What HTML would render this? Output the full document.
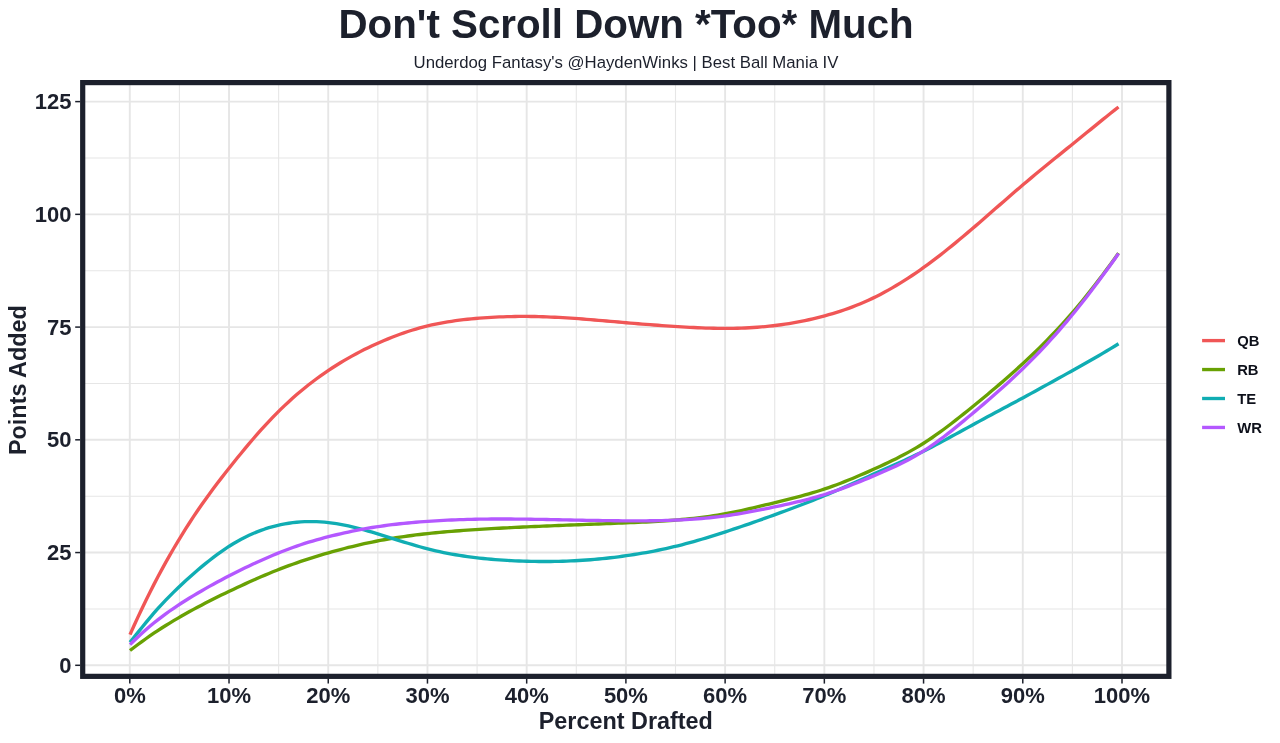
<!DOCTYPE html>
<html><head><meta charset="utf-8"><title>Don't Scroll Down *Too* Much</title>
<style>
html,body{margin:0;padding:0;background:#fff;}
body{width:1280px;height:743px;overflow:hidden;}
svg{display:block;will-change:transform;}
text{font-family:"Liberation Sans",sans-serif;fill:#1c202c;}
.tk{font-size:22px;font-weight:bold;}
.ax{font-size:23.4px;font-weight:bold;}
.lg{font-size:14.8px;font-weight:bold;fill:#0d101a;}
.ti{font-size:40.3px;font-weight:bold;}
.st{font-size:16.75px;}
</style></head><body>
<svg width="1280" height="743" viewBox="0 0 1280 743">
<rect x="0" y="0" width="1280" height="743" fill="#ffffff"/>
<text x="626.1" y="38" text-anchor="middle" class="ti">Don't Scroll Down *Too* Much</text>
<text x="626" y="67.5" text-anchor="middle" class="st">Underdog Fantasy's @HaydenWinks | Best Ball Mania IV</text>
<g>
<line x1="179.41" x2="179.41" y1="82.6" y2="676.35" stroke="#e6e6e6" stroke-width="1.1"/>
<line x1="278.63" x2="278.63" y1="82.6" y2="676.35" stroke="#e6e6e6" stroke-width="1.1"/>
<line x1="377.85" x2="377.85" y1="82.6" y2="676.35" stroke="#e6e6e6" stroke-width="1.1"/>
<line x1="477.07" x2="477.07" y1="82.6" y2="676.35" stroke="#e6e6e6" stroke-width="1.1"/>
<line x1="576.29" x2="576.29" y1="82.6" y2="676.35" stroke="#e6e6e6" stroke-width="1.1"/>
<line x1="675.51" x2="675.51" y1="82.6" y2="676.35" stroke="#e6e6e6" stroke-width="1.1"/>
<line x1="774.73" x2="774.73" y1="82.6" y2="676.35" stroke="#e6e6e6" stroke-width="1.1"/>
<line x1="873.95" x2="873.95" y1="82.6" y2="676.35" stroke="#e6e6e6" stroke-width="1.1"/>
<line x1="973.17" x2="973.17" y1="82.6" y2="676.35" stroke="#e6e6e6" stroke-width="1.1"/>
<line x1="1072.39" x2="1072.39" y1="82.6" y2="676.35" stroke="#e6e6e6" stroke-width="1.1"/>
<line x1="82.7" x2="1168.9" y1="608.93" y2="608.93" stroke="#e6e6e6" stroke-width="1.1"/>
<line x1="82.7" x2="1168.9" y1="496.19" y2="496.19" stroke="#e6e6e6" stroke-width="1.1"/>
<line x1="82.7" x2="1168.9" y1="383.46" y2="383.46" stroke="#e6e6e6" stroke-width="1.1"/>
<line x1="82.7" x2="1168.9" y1="270.72" y2="270.72" stroke="#e6e6e6" stroke-width="1.1"/>
<line x1="82.7" x2="1168.9" y1="157.98" y2="157.98" stroke="#e6e6e6" stroke-width="1.1"/>
<line x1="129.80" x2="129.80" y1="82.6" y2="676.35" stroke="#e6e6e6" stroke-width="1.9"/>
<line x1="229.02" x2="229.02" y1="82.6" y2="676.35" stroke="#e6e6e6" stroke-width="1.9"/>
<line x1="328.24" x2="328.24" y1="82.6" y2="676.35" stroke="#e6e6e6" stroke-width="1.9"/>
<line x1="427.46" x2="427.46" y1="82.6" y2="676.35" stroke="#e6e6e6" stroke-width="1.9"/>
<line x1="526.68" x2="526.68" y1="82.6" y2="676.35" stroke="#e6e6e6" stroke-width="1.9"/>
<line x1="625.90" x2="625.90" y1="82.6" y2="676.35" stroke="#e6e6e6" stroke-width="1.9"/>
<line x1="725.12" x2="725.12" y1="82.6" y2="676.35" stroke="#e6e6e6" stroke-width="1.9"/>
<line x1="824.34" x2="824.34" y1="82.6" y2="676.35" stroke="#e6e6e6" stroke-width="1.9"/>
<line x1="923.56" x2="923.56" y1="82.6" y2="676.35" stroke="#e6e6e6" stroke-width="1.9"/>
<line x1="1022.78" x2="1022.78" y1="82.6" y2="676.35" stroke="#e6e6e6" stroke-width="1.9"/>
<line x1="1122.00" x2="1122.00" y1="82.6" y2="676.35" stroke="#e6e6e6" stroke-width="1.9"/>
<line x1="82.7" x2="1168.9" y1="665.30" y2="665.30" stroke="#e6e6e6" stroke-width="1.9"/>
<line x1="82.7" x2="1168.9" y1="552.56" y2="552.56" stroke="#e6e6e6" stroke-width="1.9"/>
<line x1="82.7" x2="1168.9" y1="439.82" y2="439.82" stroke="#e6e6e6" stroke-width="1.9"/>
<line x1="82.7" x2="1168.9" y1="327.09" y2="327.09" stroke="#e6e6e6" stroke-width="1.9"/>
<line x1="82.7" x2="1168.9" y1="214.35" y2="214.35" stroke="#e6e6e6" stroke-width="1.9"/>
<line x1="82.7" x2="1168.9" y1="101.61" y2="101.61" stroke="#e6e6e6" stroke-width="1.9"/>
</g>
<g>
<polyline points="130.00,634.59 133.97,625.78 137.94,617.15 141.91,608.70 145.88,600.47 149.85,592.44 153.82,584.62 157.79,577.01 161.76,569.60 165.73,562.38 169.70,555.35 173.67,548.50 177.64,541.82 181.61,535.30 185.58,528.95 189.55,522.75 193.52,516.70 197.49,510.80 201.46,505.04 205.43,499.42 209.40,493.93 213.37,488.56 217.34,483.29 221.31,478.11 225.28,473.01 229.25,467.97 233.22,462.98 237.19,458.05 241.16,453.19 245.13,448.39 249.10,443.66 253.07,439.02 257.04,434.46 261.01,429.98 264.98,425.61 268.95,421.33 272.92,417.16 276.89,413.11 280.86,409.17 284.83,405.35 288.80,401.65 292.77,398.06 296.74,394.58 300.71,391.21 304.68,387.94 308.65,384.77 312.62,381.71 316.59,378.73 320.56,375.85 324.53,373.07 328.50,370.36 332.47,367.75 336.44,365.22 340.41,362.76 344.38,360.39 348.35,358.09 352.32,355.87 356.29,353.71 360.26,351.63 364.23,349.61 368.20,347.66 372.17,345.78 376.14,343.95 380.11,342.19 384.08,340.48 388.05,338.83 392.02,337.24 395.99,335.72 399.96,334.26 403.93,332.86 407.90,331.53 411.87,330.26 415.84,329.06 419.81,327.93 423.78,326.86 427.75,325.87 431.72,324.95 435.69,324.09 439.66,323.30 443.63,322.57 447.60,321.90 451.57,321.28 455.54,320.71 459.51,320.19 463.48,319.71 467.45,319.28 471.42,318.88 475.39,318.51 479.36,318.18 483.33,317.88 487.30,317.60 491.27,317.36 495.24,317.14 499.21,316.95 503.18,316.80 507.15,316.67 511.12,316.56 515.09,316.49 519.06,316.45 523.03,316.43 527.00,316.44 530.97,316.48 534.94,316.54 538.91,316.63 542.88,316.75 546.85,316.89 550.82,317.05 554.79,317.23 558.76,317.43 562.73,317.65 566.70,317.89 570.67,318.14 574.64,318.42 578.61,318.70 582.58,319.00 586.55,319.31 590.52,319.63 594.49,319.96 598.46,320.30 602.43,320.64 606.40,320.99 610.37,321.33 614.34,321.68 618.31,322.03 622.28,322.38 626.25,322.73 630.22,323.06 634.19,323.40 638.16,323.73 642.13,324.05 646.10,324.36 650.07,324.67 654.04,324.98 658.01,325.27 661.98,325.56 665.95,325.84 669.92,326.12 673.89,326.38 677.86,326.64 681.83,326.88 685.80,327.12 689.77,327.34 693.74,327.54 697.71,327.73 701.68,327.90 705.65,328.05 709.62,328.17 713.59,328.27 717.56,328.35 721.53,328.39 725.50,328.40 729.47,328.38 733.44,328.33 737.41,328.24 741.38,328.12 745.35,327.96 749.32,327.76 753.29,327.53 757.26,327.25 761.23,326.94 765.20,326.58 769.17,326.18 773.14,325.75 777.11,325.26 781.08,324.73 785.05,324.16 789.02,323.54 792.99,322.88 796.96,322.17 800.93,321.41 804.90,320.60 808.87,319.75 812.84,318.84 816.81,317.89 820.78,316.88 824.75,315.83 828.72,314.72 832.69,313.56 836.66,312.34 840.63,311.06 844.60,309.72 848.57,308.31 852.54,306.84 856.51,305.30 860.48,303.68 864.45,301.99 868.42,300.22 872.39,298.37 876.36,296.44 880.33,294.42 884.30,292.32 888.27,290.15 892.24,287.89 896.21,285.56 900.18,283.15 904.15,280.67 908.12,278.12 912.09,275.50 916.06,272.80 920.03,270.04 924.00,267.22 927.97,264.33 931.94,261.38 935.91,258.38 939.88,255.32 943.85,252.21 947.82,249.05 951.79,245.85 955.76,242.60 959.73,239.32 963.70,236.00 967.67,232.65 971.64,229.27 975.61,225.86 979.58,222.44 983.55,219.00 987.52,215.54 991.49,212.07 995.46,208.60 999.43,205.13 1003.40,201.67 1007.37,198.21 1011.34,194.76 1015.31,191.33 1019.28,187.92 1023.25,184.54 1027.22,181.18 1031.19,177.85 1035.16,174.55 1039.13,171.27 1043.10,168.01 1047.07,164.76 1051.04,161.53 1055.01,158.31 1058.98,155.09 1062.95,151.88 1066.92,148.67 1070.89,145.46 1074.86,142.25 1078.83,139.02 1082.80,135.80 1086.77,132.57 1090.74,129.33 1094.71,126.10 1098.68,122.87 1102.65,119.64 1106.62,116.43 1110.59,113.26 1114.56,110.13 1118.53,107.05" fill="none" stroke="#F05656" stroke-width="3.35" stroke-linejoin="round" stroke-linecap="butt"/>
<polyline points="130.00,650.54 133.97,647.51 137.94,644.53 141.91,641.61 145.88,638.75 149.85,635.96 153.82,633.24 157.79,630.59 161.76,628.02 165.73,625.51 169.70,623.06 173.67,620.67 177.64,618.32 181.61,616.03 185.58,613.78 189.55,611.57 193.52,609.40 197.49,607.27 201.46,605.17 205.43,603.10 209.40,601.06 213.37,599.06 217.34,597.08 221.31,595.12 225.28,593.19 229.25,591.29 233.22,589.40 237.19,587.54 241.16,585.69 245.13,583.87 249.10,582.07 253.07,580.30 257.04,578.55 261.01,576.82 264.98,575.12 268.95,573.45 272.92,571.82 276.89,570.22 280.86,568.66 284.83,567.14 288.80,565.65 292.77,564.21 296.74,562.81 300.71,561.44 304.68,560.11 308.65,558.81 312.62,557.55 316.59,556.32 320.56,555.13 324.53,553.96 328.50,552.81 332.47,551.70 336.44,550.60 340.41,549.54 344.38,548.50 348.35,547.49 352.32,546.51 356.29,545.55 360.26,544.63 364.23,543.74 368.20,542.87 372.17,542.04 376.14,541.25 380.11,540.48 384.08,539.75 388.05,539.05 392.02,538.38 395.99,537.74 399.96,537.13 403.93,536.55 407.90,536.00 411.87,535.47 415.84,534.96 419.81,534.48 423.78,534.02 427.75,533.59 431.72,533.17 435.69,532.77 439.66,532.39 443.63,532.03 447.60,531.68 451.57,531.35 455.54,531.04 459.51,530.73 463.48,530.44 467.45,530.16 471.42,529.89 475.39,529.63 479.36,529.38 483.33,529.14 487.30,528.90 491.27,528.67 495.24,528.44 499.21,528.22 503.18,528.01 507.15,527.80 511.12,527.60 515.09,527.40 519.06,527.21 523.03,527.03 527.00,526.84 530.97,526.67 534.94,526.49 538.91,526.32 542.88,526.15 546.85,525.99 550.82,525.83 554.79,525.67 558.76,525.51 562.73,525.35 566.70,525.20 570.67,525.04 574.64,524.89 578.61,524.74 582.58,524.58 586.55,524.43 590.52,524.28 594.49,524.12 598.46,523.97 602.43,523.81 606.40,523.66 610.37,523.50 614.34,523.34 618.31,523.18 622.28,523.02 626.25,522.85 630.22,522.69 634.19,522.52 638.16,522.34 642.13,522.16 646.10,521.96 650.07,521.76 654.04,521.54 658.01,521.31 661.98,521.07 665.95,520.80 669.92,520.52 673.89,520.22 677.86,519.89 681.83,519.54 685.80,519.17 689.77,518.77 693.74,518.34 697.71,517.88 701.68,517.39 705.65,516.87 709.62,516.31 713.59,515.72 717.56,515.09 721.53,514.42 725.50,513.72 729.47,512.97 733.44,512.19 737.41,511.37 741.38,510.52 745.35,509.65 749.32,508.75 753.29,507.83 757.26,506.89 761.23,505.94 765.20,504.98 769.17,504.01 773.14,503.04 777.11,502.07 781.08,501.09 785.05,500.11 789.02,499.12 792.99,498.11 796.96,497.09 800.93,496.03 804.90,494.95 808.87,493.83 812.84,492.68 816.81,491.48 820.78,490.23 824.75,488.93 828.72,487.58 832.69,486.17 836.66,484.71 840.63,483.20 844.60,481.65 848.57,480.06 852.54,478.43 856.51,476.77 860.48,475.08 864.45,473.35 868.42,471.60 872.39,469.83 876.36,468.04 880.33,466.23 884.30,464.39 888.27,462.51 892.24,460.59 896.21,458.63 900.18,456.61 904.15,454.53 908.12,452.38 912.09,450.16 916.06,447.86 920.03,445.47 924.00,442.99 927.97,440.41 931.94,437.74 935.91,434.98 939.88,432.15 943.85,429.25 947.82,426.28 951.79,423.25 955.76,420.17 959.73,417.05 963.70,413.88 967.67,410.69 971.64,407.47 975.61,404.24 979.58,400.98 983.55,397.71 987.52,394.42 991.49,391.09 995.46,387.74 999.43,384.36 1003.40,380.94 1007.37,377.48 1011.34,373.98 1015.31,370.44 1019.28,366.85 1023.25,363.21 1027.22,359.52 1031.19,355.77 1035.16,351.96 1039.13,348.09 1043.10,344.15 1047.07,340.13 1051.04,336.04 1055.01,331.88 1058.98,327.63 1062.95,323.30 1066.92,318.87 1070.89,314.36 1074.86,309.75 1078.83,305.04 1082.80,300.23 1086.77,295.34 1090.74,290.36 1094.71,285.28 1098.68,280.13 1102.65,274.89 1106.62,269.57 1110.59,264.17 1114.56,258.69 1118.53,253.14" fill="none" stroke="#68A103" stroke-width="3.35" stroke-linejoin="round" stroke-linecap="butt"/>
<polyline points="130.00,642.31 133.97,637.35 137.94,632.38 141.91,627.44 145.88,622.58 149.85,617.82 153.82,613.19 157.79,608.70 161.76,604.36 165.73,600.15 169.70,596.07 173.67,592.11 177.64,588.24 181.61,584.47 185.58,580.78 189.55,577.17 193.52,573.66 197.49,570.22 201.46,566.88 205.43,563.62 209.40,560.45 213.37,557.37 217.34,554.40 221.31,551.55 225.28,548.81 229.25,546.21 233.22,543.75 237.19,541.43 241.16,539.24 245.13,537.19 249.10,535.28 253.07,533.51 257.04,531.87 261.01,530.35 264.98,528.97 268.95,527.72 272.92,526.59 276.89,525.57 280.86,524.68 284.83,523.90 288.80,523.24 292.77,522.69 296.74,522.25 300.71,521.92 304.68,521.70 308.65,521.59 312.62,521.58 316.59,521.68 320.56,521.89 324.53,522.19 328.50,522.60 332.47,523.10 336.44,523.70 340.41,524.38 344.38,525.14 348.35,525.98 352.32,526.88 356.29,527.85 360.26,528.87 364.23,529.93 368.20,531.05 372.17,532.20 376.14,533.38 380.11,534.59 384.08,535.82 388.05,537.06 392.02,538.32 395.99,539.57 399.96,540.81 403.93,542.05 407.90,543.26 411.87,544.46 415.84,545.62 419.81,546.75 423.78,547.83 427.75,548.87 431.72,549.86 435.69,550.80 439.66,551.68 443.63,552.52 447.60,553.31 451.57,554.05 455.54,554.75 459.51,555.41 463.48,556.02 467.45,556.59 471.42,557.13 475.39,557.62 479.36,558.09 483.33,558.51 487.30,558.91 491.27,559.27 495.24,559.61 499.21,559.91 503.18,560.18 507.15,560.42 511.12,560.64 515.09,560.83 519.06,560.99 523.03,561.13 527.00,561.25 530.97,561.34 534.94,561.41 538.91,561.46 542.88,561.49 546.85,561.49 550.82,561.46 554.79,561.41 558.76,561.33 562.73,561.23 566.70,561.09 570.67,560.93 574.64,560.75 578.61,560.53 582.58,560.28 586.55,560.01 590.52,559.71 594.49,559.37 598.46,559.01 602.43,558.63 606.40,558.21 610.37,557.77 614.34,557.29 618.31,556.79 622.28,556.27 626.25,555.71 630.22,555.13 634.19,554.53 638.16,553.89 642.13,553.22 646.10,552.53 650.07,551.80 654.04,551.04 658.01,550.25 661.98,549.42 665.95,548.56 669.92,547.67 673.89,546.74 677.86,545.77 681.83,544.76 685.80,543.72 689.77,542.65 693.74,541.55 697.71,540.42 701.68,539.26 705.65,538.07 709.62,536.87 713.59,535.64 717.56,534.38 721.53,533.11 725.50,531.83 729.47,530.52 733.44,529.21 737.41,527.87 741.38,526.53 745.35,525.17 749.32,523.80 753.29,522.42 757.26,521.02 761.23,519.62 765.20,518.20 769.17,516.77 773.14,515.34 777.11,513.90 781.08,512.44 785.05,510.98 789.02,509.51 792.99,508.02 796.96,506.52 800.93,505.00 804.90,503.46 808.87,501.91 812.84,500.34 816.81,498.75 820.78,497.13 824.75,495.49 828.72,493.83 832.69,492.15 836.66,490.44 840.63,488.72 844.60,486.99 848.57,485.24 852.54,483.48 856.51,481.72 860.48,479.95 864.45,478.18 868.42,476.41 872.39,474.64 876.36,472.88 880.33,471.13 884.30,469.37 888.27,467.61 892.24,465.84 896.21,464.06 900.18,462.27 904.15,460.45 908.12,458.62 912.09,456.75 916.06,454.86 920.03,452.93 924.00,450.97 927.97,448.96 931.94,446.92 935.91,444.84 939.88,442.74 943.85,440.62 947.82,438.47 951.79,436.31 955.76,434.14 959.73,431.96 963.70,429.78 967.67,427.60 971.64,425.43 975.61,423.26 979.58,421.11 983.55,418.97 987.52,416.84 991.49,414.71 995.46,412.59 999.43,410.47 1003.40,408.35 1007.37,406.22 1011.34,404.10 1015.31,401.97 1019.28,399.84 1023.25,397.69 1027.22,395.54 1031.19,393.37 1035.16,391.20 1039.13,389.02 1043.10,386.84 1047.07,384.65 1051.04,382.46 1055.01,380.26 1058.98,378.06 1062.95,375.85 1066.92,373.65 1070.89,371.44 1074.86,369.22 1078.83,367.00 1082.80,364.78 1086.77,362.54 1090.74,360.29 1094.71,358.01 1098.68,355.72 1102.65,353.40 1106.62,351.05 1110.59,348.67 1114.56,346.24 1118.53,343.77" fill="none" stroke="#10ADB3" stroke-width="3.35" stroke-linejoin="round" stroke-linecap="butt"/>
<polyline points="130.00,644.63 133.97,640.76 137.94,637.00 141.91,633.34 145.88,629.79 149.85,626.35 153.82,623.04 157.79,619.86 161.76,616.80 165.73,613.85 169.70,611.01 173.67,608.27 177.64,605.60 181.61,603.01 185.58,600.48 189.55,598.02 193.52,595.61 197.49,593.24 201.46,590.93 205.43,588.65 209.40,586.41 213.37,584.21 217.34,582.04 221.31,579.91 225.28,577.81 229.25,575.74 233.22,573.72 237.19,571.72 241.16,569.76 245.13,567.84 249.10,565.94 253.07,564.08 257.04,562.25 261.01,560.45 264.98,558.69 268.95,556.96 272.92,555.28 276.89,553.63 280.86,552.03 284.83,550.47 288.80,548.97 292.77,547.51 296.74,546.10 300.71,544.75 304.68,543.45 308.65,542.21 312.62,541.03 316.59,539.89 320.56,538.79 324.53,537.73 328.50,536.71 332.47,535.71 336.44,534.75 340.41,533.82 344.38,532.92 348.35,532.05 352.32,531.21 356.29,530.41 360.26,529.63 364.23,528.90 368.20,528.19 372.17,527.52 376.14,526.89 380.11,526.29 384.08,525.72 388.05,525.19 392.02,524.69 395.99,524.22 399.96,523.77 403.93,523.36 407.90,522.97 411.87,522.61 415.84,522.26 419.81,521.94 423.78,521.64 427.75,521.36 431.72,521.10 435.69,520.85 439.66,520.61 443.63,520.40 447.60,520.20 451.57,520.02 455.54,519.85 459.51,519.70 463.48,519.56 467.45,519.44 471.42,519.34 475.39,519.25 479.36,519.17 483.33,519.11 487.30,519.07 491.27,519.03 495.24,519.01 499.21,519.00 503.18,519.00 507.15,519.01 511.12,519.03 515.09,519.06 519.06,519.09 523.03,519.14 527.00,519.19 530.97,519.24 534.94,519.30 538.91,519.37 542.88,519.44 546.85,519.51 550.82,519.58 554.79,519.66 558.76,519.74 562.73,519.82 566.70,519.90 570.67,519.98 574.64,520.07 578.61,520.15 582.58,520.23 586.55,520.30 590.52,520.38 594.49,520.45 598.46,520.52 602.43,520.58 606.40,520.64 610.37,520.70 614.34,520.74 618.31,520.79 622.28,520.82 626.25,520.84 630.22,520.86 634.19,520.87 638.16,520.87 642.13,520.85 646.10,520.82 650.07,520.78 654.04,520.72 658.01,520.65 661.98,520.56 665.95,520.45 669.92,520.32 673.89,520.17 677.86,520.00 681.83,519.81 685.80,519.59 689.77,519.35 693.74,519.08 697.71,518.78 701.68,518.46 705.65,518.10 709.62,517.71 713.59,517.29 717.56,516.83 721.53,516.34 725.50,515.81 729.47,515.24 733.44,514.64 737.41,514.00 741.38,513.34 745.35,512.64 749.32,511.92 753.29,511.18 757.26,510.41 761.23,509.63 765.20,508.83 769.17,508.02 773.14,507.20 777.11,506.37 781.08,505.53 785.05,504.68 789.02,503.80 792.99,502.91 796.96,501.99 800.93,501.04 804.90,500.06 808.87,499.04 812.84,497.97 816.81,496.86 820.78,495.70 824.75,494.48 828.72,493.21 832.69,491.88 836.66,490.50 840.63,489.07 844.60,487.60 848.57,486.09 852.54,484.55 856.51,482.97 860.48,481.36 864.45,479.73 868.42,478.08 872.39,476.41 876.36,474.73 880.33,473.03 884.30,471.30 888.27,469.54 892.24,467.74 896.21,465.88 900.18,463.96 904.15,461.97 908.12,459.91 912.09,457.76 916.06,455.51 920.03,453.15 924.00,450.69 927.97,448.10 931.94,445.41 935.91,442.61 939.88,439.71 943.85,436.74 947.82,433.68 951.79,430.56 955.76,427.38 959.73,424.14 963.70,420.87 967.67,417.56 971.64,414.23 975.61,410.88 979.58,407.52 983.55,404.14 987.52,400.73 991.49,397.30 995.46,393.83 999.43,390.33 1003.40,386.78 1007.37,383.19 1011.34,379.54 1015.31,375.84 1019.28,372.08 1023.25,368.26 1027.22,364.36 1031.19,360.40 1035.16,356.37 1039.13,352.26 1043.10,348.08 1047.07,343.82 1051.04,339.48 1055.01,335.06 1058.98,330.56 1062.95,325.97 1066.92,321.30 1070.89,316.54 1074.86,311.69 1078.83,306.76 1082.80,301.75 1086.77,296.66 1090.74,291.49 1094.71,286.25 1098.68,280.95 1102.65,275.58 1106.62,270.16 1110.59,264.68 1114.56,259.16 1118.53,253.59" fill="none" stroke="#B458FF" stroke-width="3.35" stroke-linejoin="round" stroke-linecap="butt"/>
</g>
<rect x="82.7" y="82.6" width="1086.20" height="593.75" fill="none" stroke="#1c202c" stroke-width="5.2"/>
<g>
<line x1="129.80" x2="129.80" y1="678.5" y2="683.6" stroke="#1c202c" stroke-width="1.5"/>
<line x1="229.02" x2="229.02" y1="678.5" y2="683.6" stroke="#1c202c" stroke-width="1.5"/>
<line x1="328.24" x2="328.24" y1="678.5" y2="683.6" stroke="#1c202c" stroke-width="1.5"/>
<line x1="427.46" x2="427.46" y1="678.5" y2="683.6" stroke="#1c202c" stroke-width="1.5"/>
<line x1="526.68" x2="526.68" y1="678.5" y2="683.6" stroke="#1c202c" stroke-width="1.5"/>
<line x1="625.90" x2="625.90" y1="678.5" y2="683.6" stroke="#1c202c" stroke-width="1.5"/>
<line x1="725.12" x2="725.12" y1="678.5" y2="683.6" stroke="#1c202c" stroke-width="1.5"/>
<line x1="824.34" x2="824.34" y1="678.5" y2="683.6" stroke="#1c202c" stroke-width="1.5"/>
<line x1="923.56" x2="923.56" y1="678.5" y2="683.6" stroke="#1c202c" stroke-width="1.5"/>
<line x1="1022.78" x2="1022.78" y1="678.5" y2="683.6" stroke="#1c202c" stroke-width="1.5"/>
<line x1="1122.00" x2="1122.00" y1="678.5" y2="683.6" stroke="#1c202c" stroke-width="1.5"/>
<line x1="75.2" x2="80.2" y1="665.30" y2="665.30" stroke="#1c202c" stroke-width="1.5"/>
<line x1="75.2" x2="80.2" y1="552.56" y2="552.56" stroke="#1c202c" stroke-width="1.5"/>
<line x1="75.2" x2="80.2" y1="439.82" y2="439.82" stroke="#1c202c" stroke-width="1.5"/>
<line x1="75.2" x2="80.2" y1="327.09" y2="327.09" stroke="#1c202c" stroke-width="1.5"/>
<line x1="75.2" x2="80.2" y1="214.35" y2="214.35" stroke="#1c202c" stroke-width="1.5"/>
<line x1="75.2" x2="80.2" y1="101.61" y2="101.61" stroke="#1c202c" stroke-width="1.5"/>
</g>
<g>
<text x="129.80" y="703.2" text-anchor="middle" class="tk">0%</text>
<text x="229.02" y="703.2" text-anchor="middle" class="tk">10%</text>
<text x="328.24" y="703.2" text-anchor="middle" class="tk">20%</text>
<text x="427.46" y="703.2" text-anchor="middle" class="tk">30%</text>
<text x="526.68" y="703.2" text-anchor="middle" class="tk">40%</text>
<text x="625.90" y="703.2" text-anchor="middle" class="tk">50%</text>
<text x="725.12" y="703.2" text-anchor="middle" class="tk">60%</text>
<text x="824.34" y="703.2" text-anchor="middle" class="tk">70%</text>
<text x="923.56" y="703.2" text-anchor="middle" class="tk">80%</text>
<text x="1022.78" y="703.2" text-anchor="middle" class="tk">90%</text>
<text x="1122.00" y="703.2" text-anchor="middle" class="tk">100%</text>
<text x="71.5" y="672.90" text-anchor="end" class="tk">0</text>
<text x="71.5" y="560.16" text-anchor="end" class="tk">25</text>
<text x="71.5" y="447.42" text-anchor="end" class="tk">50</text>
<text x="71.5" y="334.69" text-anchor="end" class="tk">75</text>
<text x="71.5" y="221.95" text-anchor="end" class="tk">100</text>
<text x="71.5" y="109.21" text-anchor="end" class="tk">125</text>
</g>
<text x="625.8" y="728.6" text-anchor="middle" class="ax">Percent Drafted</text>
<text transform="translate(26,380.1) rotate(-90)" text-anchor="middle" class="ax">Points Added</text>
<g>
<line x1="1202.1" x2="1225" y1="340.60" y2="340.60" stroke="#F05656" stroke-width="3.35"/>
<text x="1237.2" y="345.80" class="lg">QB</text>
<line x1="1202.1" x2="1225" y1="369.55" y2="369.55" stroke="#68A103" stroke-width="3.35"/>
<text x="1237.2" y="374.75" class="lg">RB</text>
<line x1="1202.1" x2="1225" y1="398.50" y2="398.50" stroke="#10ADB3" stroke-width="3.35"/>
<text x="1237.2" y="403.70" class="lg">TE</text>
<line x1="1202.1" x2="1225" y1="427.45" y2="427.45" stroke="#B458FF" stroke-width="3.35"/>
<text x="1237.2" y="432.65" class="lg">WR</text>
</g>
</svg>
</body></html>
